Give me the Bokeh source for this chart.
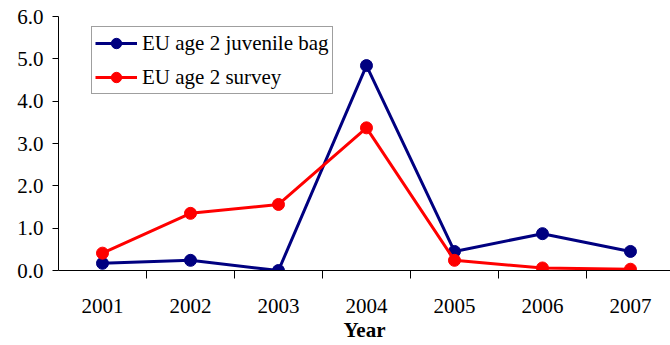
from bokeh.plotting import figure
from bokeh.models import FixedTicker, Range1d, Legend, LegendItem
from bokeh.embed import file_html
from bokeh.resources import INLINE

years = ["2001", "2002", "2003", "2004", "2005", "2006", "2007"]
juvenile_bag = [0.17, 0.24, 0.0, 4.84, 0.45, 0.87, 0.45]
survey = [0.41, 1.35, 1.56, 3.37, 0.24, 0.06, 0.03]
y_ticks = [0, 1, 2, 3, 4, 5, 6]

FONT = "'Liberation Serif', 'Times New Roman', serif"
BLUE = "#000080"
RED = "#FF0000"

# categories sit at half-integer positions; boundaries between them get tick marks
xs = [i + 0.5 for i in range(len(years))]
boundaries = list(range(1, len(years)))

p = figure(width=670, height=345, output_backend="svg", toolbar_location=None,
           x_range=Range1d(0, 6.955), y_range=Range1d(0, 6))
p.min_border_left = 58
p.min_border_right = 0
p.min_border_top = 16
p.min_border_bottom = 75
p.outline_line_color = None
p.background_fill_color = "white"
p.border_fill_color = "white"
p.xgrid.visible = False
p.ygrid.visible = False

# x axis: year labels at centres, tick marks between categories
xa = p.xaxis[0]
xa.ticker = FixedTicker(ticks=xs, minor_ticks=boundaries)
xa.major_label_overrides = {x: y for x, y in zip(xs, years)}
xa.major_tick_out = 0
xa.major_tick_in = 0
xa.minor_tick_out = 8
xa.minor_tick_in = 0
xa.minor_tick_line_color = "black"
xa.axis_line_color = "black"
xa.major_label_text_font = FONT
xa.major_label_text_font_size = "21px"
xa.major_label_text_color = "black"
xa.major_label_standoff = 20
xa.axis_label = "Year"
xa.axis_label_text_font = FONT
xa.axis_label_text_font_size = "21px"
xa.axis_label_text_font_style = "bold"
xa.axis_label_text_color = "black"
xa.axis_label_standoff = 2

ya = p.yaxis[0]
ya.ticker = FixedTicker(ticks=y_ticks, minor_ticks=[])
ya.major_label_overrides = {t: f"{t:.1f}" for t in y_ticks}
ya.major_tick_out = 6
ya.major_tick_in = 0
ya.axis_line_color = "black"
ya.major_label_text_font = FONT
ya.major_label_text_font_size = "21px"
ya.major_label_text_color = "black"
ya.major_label_standoff = 9

l1 = p.line(xs, juvenile_bag, line_color=BLUE, line_width=3)
s1 = p.scatter(xs, juvenile_bag, size=12, fill_color=BLUE, line_color=BLUE)
l2 = p.line(xs, survey, line_color=RED, line_width=3)
s2 = p.scatter(xs, survey, size=12, fill_color=RED, line_color=RED)

legend = Legend(items=[
    LegendItem(label="EU age 2 juvenile bag", renderers=[l1, s1]),
    LegendItem(label="EU age 2 survey", renderers=[l2, s2]),
], location=(33, 176))
legend.label_text_font = FONT
legend.label_text_font_size = "21px"
legend.label_text_color = "black"
legend.border_line_color = "#404040"
legend.border_line_width = 1
legend.background_fill_alpha = 1
legend.padding = 3
legend.spacing = 8
legend.margin = 0
legend.glyph_width = 42
legend.glyph_height = 26
legend.label_height = 26
legend.label_standoff = 5
p.add_layout(legend, "center")

open("out.html", "w").write(file_html(p, INLINE))
